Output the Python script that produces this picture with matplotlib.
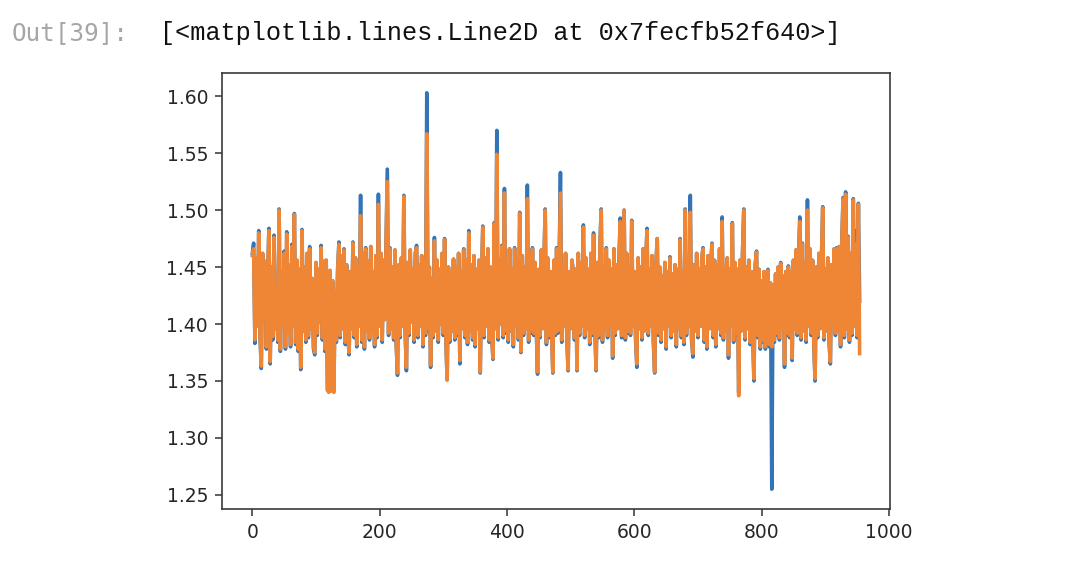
import numpy as np
import matplotlib.pyplot as plt

# one sample every 2 steps of the original index (0 .. 954)
step = 2

orange = [
    1.460, 1.466, 1.386, 1.458, 1.398, 1.480, 1.392, 1.363, 1.462, 1.404, 1.455, 1.380, 1.440, 1.482, 1.367, 1.450, 1.389, 1.476, 1.396, 1.428,
    1.386, 1.500, 1.378, 1.446, 1.399, 1.462, 1.380, 1.479, 1.392, 1.452, 1.382, 1.468, 1.398, 1.496, 1.384, 1.456, 1.378, 1.448, 1.362, 1.482,
    1.394, 1.450, 1.386, 1.462, 1.390, 1.466, 1.396, 1.440, 1.380, 1.375, 1.454, 1.392, 1.448, 1.402, 1.467, 1.388, 1.455, 1.378, 1.456, 1.342,
    1.340, 1.447, 1.341, 1.438, 1.340, 1.428, 1.386, 1.448, 1.470, 1.390, 1.460, 1.396, 1.465, 1.384, 1.452, 1.392, 1.375, 1.446, 1.396, 1.471,
    1.390, 1.458, 1.382, 1.450, 1.398, 1.495, 1.386, 1.462, 1.380, 1.466, 1.394, 1.455, 1.388, 1.468, 1.392, 1.446, 1.382, 1.460, 1.390, 1.505,
    1.398, 1.462, 1.386, 1.456, 1.404, 1.468, 1.525, 1.392, 1.466, 1.396, 1.450, 1.388, 1.465, 1.384, 1.357, 1.452, 1.390, 1.458, 1.398, 1.512,
    1.394, 1.362, 1.454, 1.392, 1.465, 1.402, 1.448, 1.386, 1.462, 1.467, 1.390, 1.452, 1.398, 1.460, 1.382, 1.456, 1.392, 1.567, 1.396, 1.450,
    1.364, 1.440, 1.390, 1.473, 1.394, 1.456, 1.386, 1.448, 1.400, 1.462, 1.392, 1.474, 1.388, 1.351, 1.450, 1.386, 1.446, 1.394, 1.457, 1.388,
    1.450, 1.392, 1.462, 1.368, 1.446, 1.396, 1.465, 1.390, 1.456, 1.384, 1.480, 1.394, 1.452, 1.388, 1.460, 1.382, 1.448, 1.396, 1.456, 1.358,
    1.440, 1.485, 1.390, 1.458, 1.398, 1.466, 1.386, 1.450, 1.392, 1.370, 1.488, 1.396, 1.549, 1.388, 1.456, 1.400, 1.468, 1.390, 1.515, 1.394,
    1.452, 1.386, 1.466, 1.394, 1.448, 1.382, 1.466, 1.398, 1.456, 1.388, 1.497, 1.376, 1.460, 1.392, 1.450, 1.396, 1.510, 1.386, 1.462, 1.394,
    1.466, 1.392, 1.454, 1.398, 1.358, 1.448, 1.390, 1.465, 1.396, 1.452, 1.500, 1.384, 1.458, 1.390, 1.446, 1.398, 1.358, 1.456, 1.392, 1.466,
    1.394, 1.456, 1.515, 1.386, 1.450, 1.398, 1.462, 1.390, 1.360, 1.446, 1.396, 1.456, 1.440, 1.388, 1.448, 1.360, 1.462, 1.392, 1.454, 1.398,
    1.485, 1.390, 1.458, 1.396, 1.448, 1.384, 1.462, 1.392, 1.478, 1.398, 1.360, 1.454, 1.390, 1.468, 1.500, 1.386, 1.450, 1.396, 1.466, 1.390,
    1.456, 1.398, 1.448, 1.372, 1.466, 1.392, 1.452, 1.396, 1.458, 1.490, 1.390, 1.446, 1.500, 1.388, 1.462, 1.394, 1.450, 1.392, 1.490, 1.398,
    1.446, 1.390, 1.365, 1.458, 1.396, 1.450, 1.388, 1.466, 1.394, 1.454, 1.482, 1.392, 1.448, 1.398, 1.460, 1.386, 1.358, 1.452, 1.475, 1.392,
    1.450, 1.386, 1.442, 1.396, 1.454, 1.380, 1.446, 1.398, 1.458, 1.390, 1.444, 1.394, 1.452, 1.382, 1.448, 1.396, 1.474, 1.390, 1.446, 1.384,
    1.500, 1.392, 1.456, 1.398, 1.498, 1.388, 1.374, 1.452, 1.394, 1.462, 1.390, 1.448, 1.398, 1.458, 1.466, 1.386, 1.450, 1.380, 1.460, 1.396,
    1.450, 1.470, 1.390, 1.456, 1.382, 1.452, 1.396, 1.466, 1.392, 1.490, 1.388, 1.450, 1.394, 1.458, 1.373, 1.448, 1.398, 1.488, 1.386, 1.454,
    1.392, 1.448, 1.337, 1.456, 1.394, 1.462, 1.500, 1.388, 1.450, 1.396, 1.456, 1.384, 1.446, 1.392, 1.352, 1.452, 1.463, 1.390, 1.448, 1.380,
    1.438, 1.386, 1.446, 1.380, 1.442, 1.447, 1.382, 1.436, 1.380, 1.434, 1.386, 1.444, 1.392, 1.450, 1.388, 1.453, 1.396, 1.442, 1.365, 1.446,
    1.392, 1.450, 1.390, 1.446, 1.370, 1.456, 1.396, 1.465, 1.392, 1.458, 1.490, 1.388, 1.470, 1.394, 1.454, 1.386, 1.500, 1.398, 1.466, 1.392,
    1.456, 1.384, 1.352, 1.450, 1.390, 1.462, 1.396, 1.456, 1.502, 1.388, 1.448, 1.394, 1.458, 1.386, 1.367, 1.452, 1.398, 1.466, 1.392, 1.466,
    1.394, 1.468, 1.382, 1.472, 1.510, 1.390, 1.514, 1.396, 1.476, 1.386, 1.462, 1.392, 1.509, 1.398, 1.470, 1.390, 1.505, 1.374,
]

blue = [
    1.462, 1.471, 1.383, 1.458, 1.398, 1.482, 1.390, 1.361, 1.462, 1.404, 1.455, 1.378, 1.440, 1.484, 1.365, 1.450, 1.386, 1.478, 1.396, 1.428,
    1.384, 1.501, 1.376, 1.446, 1.399, 1.464, 1.378, 1.481, 1.392, 1.452, 1.380, 1.470, 1.398, 1.497, 1.382, 1.456, 1.376, 1.448, 1.360, 1.483,
    1.394, 1.450, 1.384, 1.462, 1.388, 1.468, 1.396, 1.440, 1.378, 1.373, 1.454, 1.390, 1.448, 1.402, 1.469, 1.386, 1.455, 1.376, 1.456, 1.342,
    1.342, 1.447, 1.343, 1.438, 1.342, 1.428, 1.384, 1.448, 1.472, 1.388, 1.460, 1.396, 1.466, 1.382, 1.452, 1.390, 1.373, 1.446, 1.396, 1.472,
    1.388, 1.458, 1.380, 1.450, 1.398, 1.513, 1.384, 1.462, 1.378, 1.467, 1.394, 1.455, 1.386, 1.468, 1.392, 1.446, 1.380, 1.460, 1.388, 1.514,
    1.398, 1.462, 1.384, 1.456, 1.404, 1.468, 1.536, 1.390, 1.467, 1.396, 1.450, 1.386, 1.465, 1.382, 1.355, 1.452, 1.388, 1.458, 1.398, 1.513,
    1.394, 1.359, 1.454, 1.390, 1.465, 1.402, 1.448, 1.384, 1.462, 1.469, 1.388, 1.452, 1.398, 1.460, 1.380, 1.456, 1.390, 1.603, 1.394, 1.450,
    1.362, 1.440, 1.388, 1.476, 1.394, 1.456, 1.384, 1.448, 1.400, 1.462, 1.390, 1.475, 1.386, 1.351, 1.450, 1.384, 1.446, 1.394, 1.457, 1.386,
    1.450, 1.390, 1.462, 1.365, 1.446, 1.396, 1.466, 1.388, 1.456, 1.382, 1.482, 1.394, 1.452, 1.386, 1.460, 1.380, 1.448, 1.396, 1.456, 1.357,
    1.440, 1.486, 1.388, 1.458, 1.398, 1.466, 1.384, 1.450, 1.390, 1.369, 1.489, 1.396, 1.570, 1.386, 1.456, 1.400, 1.469, 1.388, 1.519, 1.392,
    1.452, 1.384, 1.466, 1.394, 1.448, 1.380, 1.467, 1.398, 1.456, 1.386, 1.498, 1.375, 1.460, 1.390, 1.450, 1.396, 1.522, 1.384, 1.462, 1.392,
    1.467, 1.390, 1.454, 1.398, 1.356, 1.448, 1.388, 1.465, 1.396, 1.452, 1.501, 1.382, 1.458, 1.388, 1.446, 1.398, 1.357, 1.456, 1.390, 1.467,
    1.392, 1.456, 1.533, 1.384, 1.450, 1.398, 1.462, 1.388, 1.359, 1.446, 1.396, 1.456, 1.448, 1.386, 1.448, 1.359, 1.462, 1.390, 1.454, 1.398,
    1.487, 1.388, 1.458, 1.396, 1.448, 1.382, 1.462, 1.390, 1.480, 1.398, 1.359, 1.454, 1.388, 1.468, 1.501, 1.384, 1.450, 1.396, 1.467, 1.388,
    1.456, 1.398, 1.448, 1.370, 1.466, 1.390, 1.452, 1.396, 1.458, 1.493, 1.388, 1.446, 1.500, 1.386, 1.462, 1.392, 1.450, 1.390, 1.491, 1.398,
    1.446, 1.388, 1.362, 1.458, 1.396, 1.450, 1.386, 1.466, 1.394, 1.454, 1.484, 1.390, 1.448, 1.398, 1.460, 1.384, 1.357, 1.452, 1.475, 1.390,
    1.450, 1.384, 1.442, 1.396, 1.454, 1.378, 1.446, 1.398, 1.459, 1.388, 1.444, 1.394, 1.452, 1.380, 1.448, 1.396, 1.475, 1.388, 1.446, 1.382,
    1.501, 1.390, 1.456, 1.398, 1.513, 1.386, 1.371, 1.452, 1.394, 1.462, 1.388, 1.448, 1.398, 1.458, 1.467, 1.384, 1.450, 1.378, 1.460, 1.396,
    1.450, 1.471, 1.388, 1.456, 1.380, 1.452, 1.396, 1.466, 1.390, 1.494, 1.386, 1.450, 1.394, 1.458, 1.370, 1.448, 1.398, 1.489, 1.384, 1.454,
    1.390, 1.448, 1.340, 1.456, 1.394, 1.462, 1.501, 1.386, 1.450, 1.396, 1.456, 1.382, 1.446, 1.390, 1.350, 1.452, 1.464, 1.388, 1.448, 1.378,
    1.438, 1.384, 1.446, 1.378, 1.442, 1.448, 1.380, 1.436, 1.255, 1.434, 1.384, 1.444, 1.390, 1.450, 1.386, 1.454, 1.396, 1.442, 1.362, 1.446,
    1.390, 1.451, 1.388, 1.446, 1.368, 1.456, 1.396, 1.465, 1.390, 1.458, 1.494, 1.386, 1.471, 1.394, 1.454, 1.384, 1.509, 1.398, 1.466, 1.390,
    1.456, 1.382, 1.350, 1.450, 1.388, 1.462, 1.396, 1.456, 1.503, 1.386, 1.448, 1.394, 1.458, 1.384, 1.365, 1.452, 1.398, 1.466, 1.390, 1.467,
    1.394, 1.468, 1.380, 1.472, 1.511, 1.388, 1.516, 1.396, 1.477, 1.384, 1.462, 1.390, 1.510, 1.398, 1.482, 1.388, 1.506, 1.420,
]

x = np.arange(len(orange)) * step

fig = plt.figure(figsize=(10.86, 5.72), dpi=100)

# notebook output prompt
fig.text(12 / 1086, 1 - 33 / 572, "Out[39]:", family="DejaVu Sans Mono",
         fontsize=17.5, color="#a6a6a6", va="center", ha="left")
fig.text(160 / 1086, 1 - 33 / 572, "[<matplotlib.lines.Line2D at 0x7fecfb52f640>]",
         family="Liberation Mono", fontsize=18.2, color="#111111",
         va="center", ha="left")

ax = fig.add_axes([222 / 1086, 1 - 509 / 572, 668 / 1086, 436 / 572])
ax.plot(x, blue, color="#3274b5", lw=2.6)
ax.plot(x, orange, color="#ef8636", lw=2.6)

ax.set_xticks([0, 200, 400, 600, 800, 1000])
ax.set_yticks([1.25, 1.30, 1.35, 1.40, 1.45, 1.50, 1.55, 1.60])
ax.tick_params(labelsize=13.5, length=5, width=1.1, colors="#333333",
               labelcolor="#262626", pad=5)
for s in ax.spines.values():
    s.set_linewidth(1.2)
    s.set_color("#3a3a3a")

fig.savefig("out.png", dpi=100)
